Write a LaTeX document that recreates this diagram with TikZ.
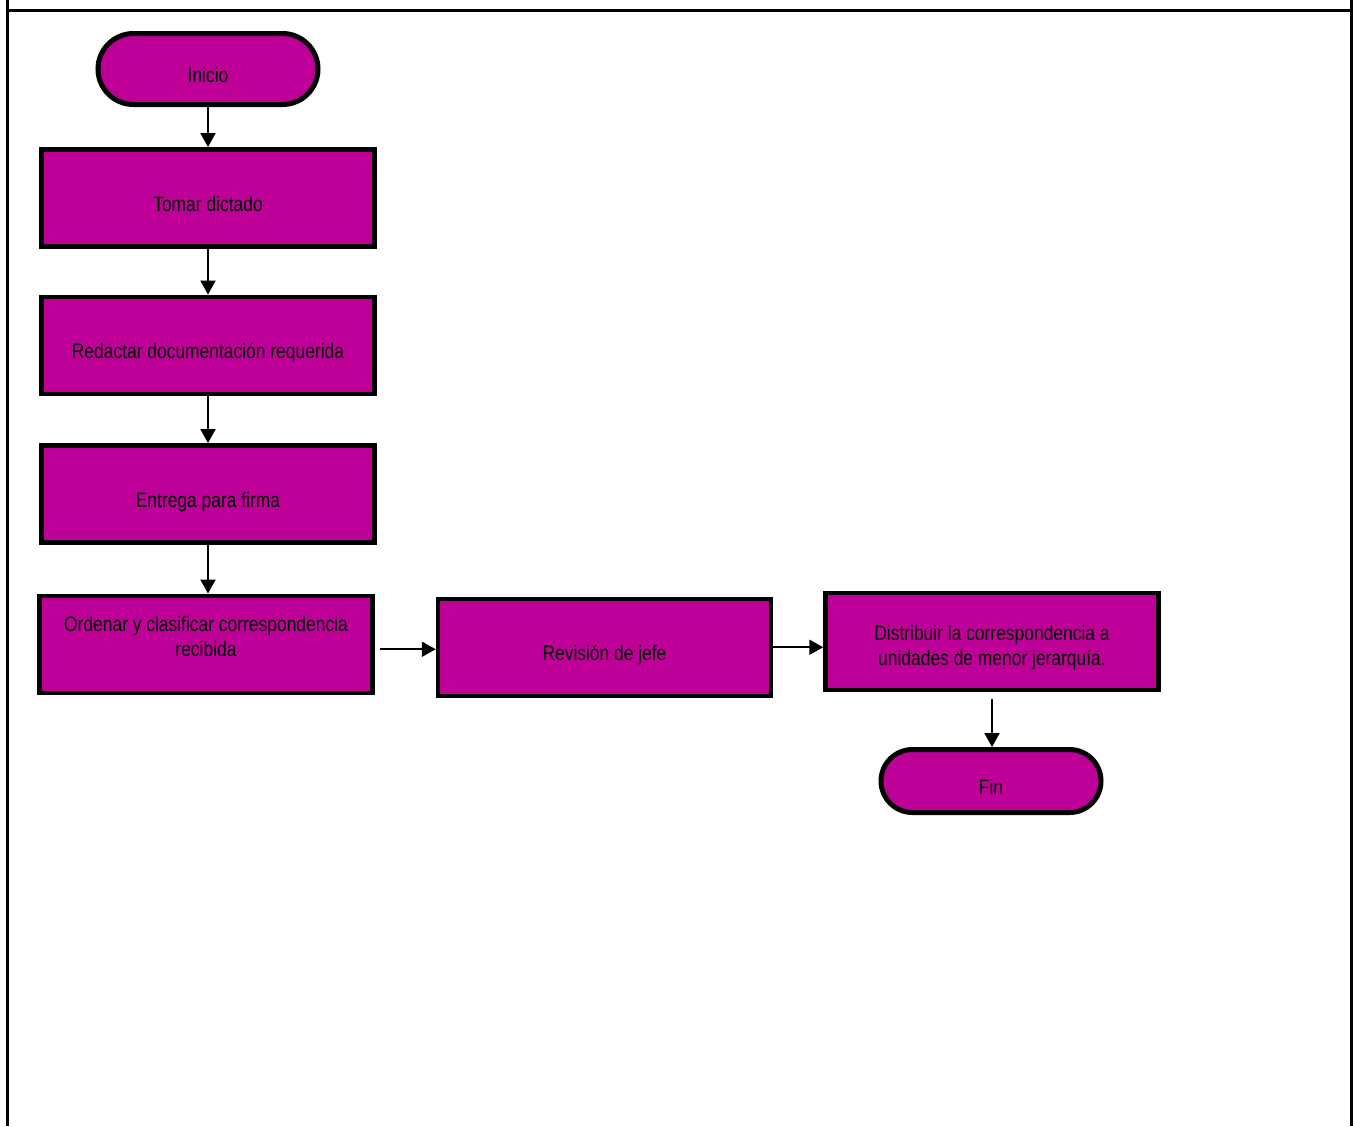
\documentclass[tikz,border=0pt]{standalone}
\usepackage{fontspec}
\setmainfont{Liberation Sans}[FakeStretch=0.83]
\usepackage{xcolor}
\usetikzlibrary{positioning, arrows.meta}
\definecolor{fucsia}{RGB}{190,0,152}
\newcommand{\diagfont}{\fontsize{10.5}{12.5}\selectfont}

\begin{document}
\begin{tikzpicture}[x=0.5pt, y=-0.5pt, >={Triangle[length=7pt, width=7.5pt]},
    font=\diagfont,
    proc/.style={draw, fill=fucsia, line width=2.25pt, minimum width=166.5pt, minimum height=48.5pt, text width=160pt, inner sep=0pt,
        execute at begin node={\centering\spaceskip=2.4pt plus 1pt\relax}},
    oneline/.style={text height=13.5pt, text depth=0pt},
    term/.style={draw, fill=fucsia, line width=2.5pt, minimum width=110pt, rounded corners=#1, minimum height=2*#1, inner sep=0pt, oneline},
    flow/.style={->, line width=1pt}]
        % Frame
        \useasboundingbox (0,0) rectangle (1353,1126);
        \draw[line width=1.5pt] (7,1126) -- (7,0);
        \draw[line width=1.5pt] (1351,1126) -- (1351,0);
        \draw[line width=1.5pt] (7,10) -- (1351,10);

        % Nodes
        \node (ini) [term=17.75pt] at (208,69) {Inicio};
        \node (tom) [proc, oneline, below=20pt of ini] {Tomar dictado};
        \node (red) [proc, oneline, below=23pt of tom] {Redactar documentación requerida};
        \node (ent) [proc, oneline, below=23.5pt of red] {Entrega para firma};
        \node (ord) [proc, text depth=20.7pt, below=24.5pt of ent, xshift=-1pt] {Ordenar y clasificar correspondencia\\recibida};
        \node (rev) [proc, oneline, right=30.5pt of ord, yshift=-1.5pt] {Revisión de jefe};
        \node (dis) [proc, text height=13.6pt, right=25pt of rev, yshift=3pt] {Distribuir la correspondencia a\\unidades de menor jerarquía.};
        \node (fin) [term=15.75pt, below=27.5pt of dis, xshift=-0.5pt] {Fin};

        % Arrows
        \draw[flow] (ini) -- (tom);
        \draw[flow] (tom) -- (red);
        \draw[flow] (red) -- (ent);
        \draw[flow] (ent) -- (ent |- ord.north);
        \draw[flow, shorten <=2.5pt] ([yshift=-1pt]rev -| ord.east) -- ([yshift=-1pt]rev.west);
        \draw[flow, shorten <=-1.5pt] (rev.east) -- (rev -| dis.west);
        \draw[flow, shorten <=3.5pt] (dis.south) -- (dis.south |- fin.north);

    \end{tikzpicture}
\end{document}
